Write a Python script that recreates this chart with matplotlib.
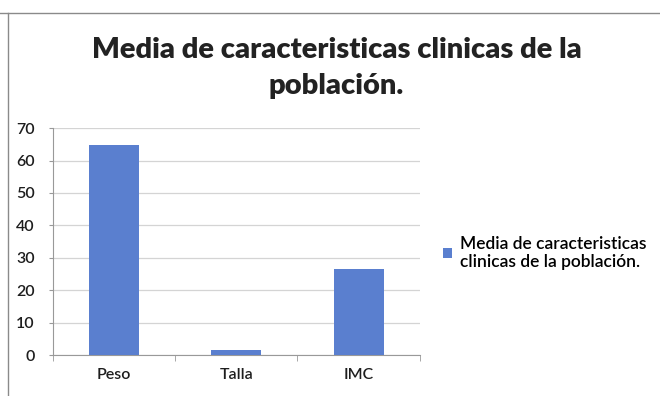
import matplotlib.pyplot as plt
from matplotlib.lines import Line2D
import numpy as np

categorias = ['Peso', 'Talla', 'IMC']
medias = [64.8, 1.6, 26.6]
y_ticks = [0, 10, 20, 30, 40, 50, 60, 70]
titulo = 'Media de caracteristicas clinicas de la\npoblación.'
serie = 'Media de caracteristicas\nclinicas de la población.'

plt.rcParams['font.family'] = ['Lato', 'DejaVu Sans']

fig = plt.figure(figsize=(6.6, 3.96), dpi=100)
ax = fig.add_axes([0.08, 0.1035, 0.556, 0.573])

x = np.arange(len(categorias))
ax.bar(x, medias, width=0.41, color='#5a7fcf', zorder=3, label=serie)

ax.set_xlim(-0.5, 2.5)
ax.set_ylim(0, 70)
ax.set_yticks(y_ticks)
ax.set_xticks(x)
ax.set_xticklabels(categorias, fontsize=11.5, color='#1e1e1e', fontweight='semibold')
ax.set_xticks([-0.5, 0.5, 1.5, 2.5], minor=True)
ax.tick_params(axis='x', which='major', length=0, pad=9)
ax.tick_params(axis='x', which='minor', length=4, color='#999999')
ax.tick_params(axis='y', length=3, color='#999999', labelsize=11.5, labelcolor='#1e1e1e', pad=10)
for lbl in ax.get_yticklabels():
    lbl.set_fontweight('semibold')
ax.grid(axis='y', color='#d4d4d4', linewidth=0.9, zorder=0)
for s in ['top', 'right']:
    ax.spines[s].set_visible(False)
ax.spines['left'].set_color('#999999')
ax.spines['bottom'].set_color('#999999')

fig.text(0.51, 0.828, titulo, ha='center', va='center', fontsize=21,
         fontweight='heavy', color='#222222', linespacing=1.5)

leg = ax.legend(loc='center left', bbox_to_anchor=(1.02, 0.45), frameon=False,
                fontsize=12.5, handlelength=0.55, handleheight=0.55, handletextpad=0.45,
                labelspacing=0.3)
for t in leg.get_texts():
    t.set_fontweight('semibold')
    t.set_linespacing(1.1)

# marco del grafico (solo borde superior e izquierdo visibles)
fig.lines.append(Line2D([0, 1], [0.967, 0.967], transform=fig.transFigure,
                        color='#8a8a8a', linewidth=1.0))
fig.lines.append(Line2D([0.012, 0.012], [0, 0.967], transform=fig.transFigure,
                        color='#8a8a8a', linewidth=1.0))

fig.savefig('out.png', dpi=100)
